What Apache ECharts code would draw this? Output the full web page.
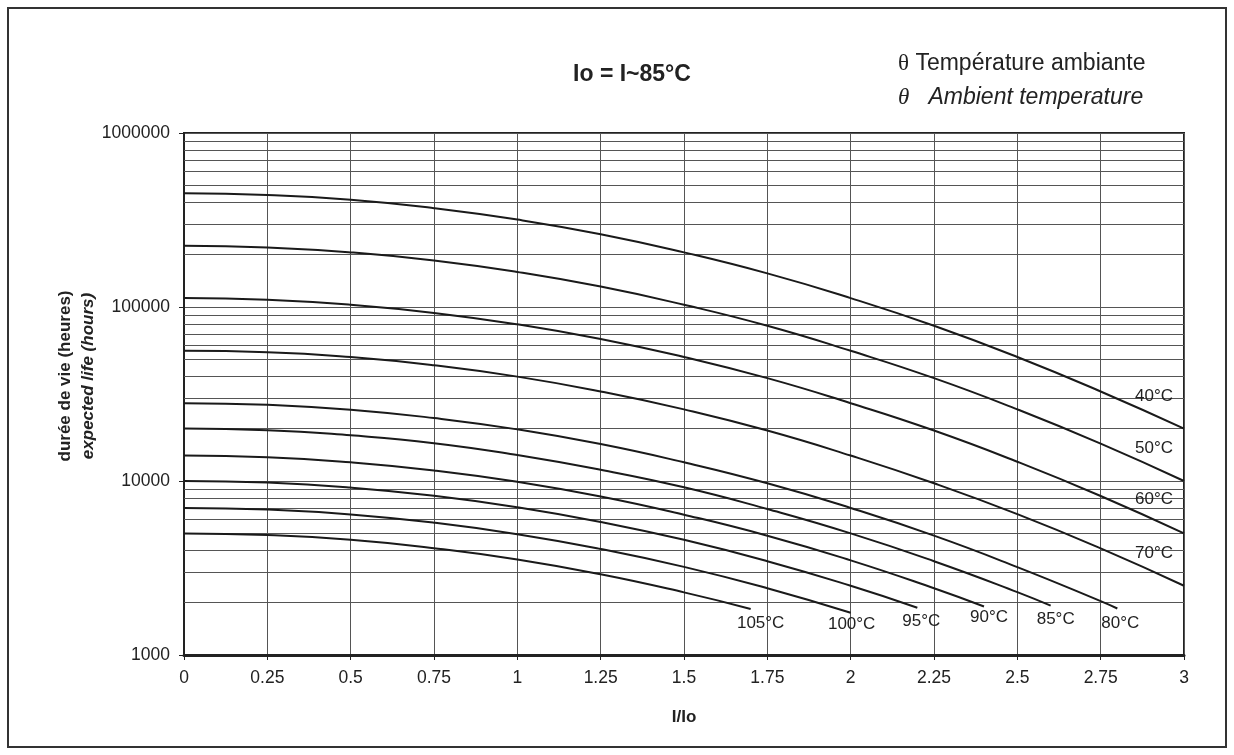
<!DOCTYPE html>
<html>
<head>
<meta charset="utf-8">
<script src="https://cdn.jsdelivr.net/npm/echarts@6/dist/echarts.min.js"></script>
<style>
  html, body { margin: 0; padding: 0; background: #ffffff; }
  #chart { width: 1234px; height: 755px; }
</style>
</head>
<body>
<div id="chart"></div>
<script>
// ---- data ----
const curveNames = ['40°C', '50°C', '60°C', '70°C', '80°C', '85°C', '90°C', '95°C', '100°C', '105°C'];

const x40 = [0, 0.25, 0.5, 0.75, 1, 1.25, 1.5, 1.75, 2, 2.25, 2.5, 2.75, 3];
const life40 = [450000, 440000, 413000, 370000, 318000, 262000, 206000, 156000, 112500, 78000, 51600, 32700, 20000];
const x50 = [0, 0.25, 0.5, 0.75, 1, 1.25, 1.5, 1.75, 2, 2.25, 2.5, 2.75, 3];
const life50 = [225000, 220000, 206000, 185000, 159000, 131000, 103000, 78000, 56000, 39000, 25800, 16400, 10000];
const x60 = [0, 0.25, 0.5, 0.75, 1, 1.25, 1.5, 1.75, 2, 2.25, 2.5, 2.75, 3];
const life60 = [112500, 110000, 103000, 92500, 79500, 65500, 51600, 39000, 28000, 19500, 12900, 8200, 5000];
const x70 = [0, 0.25, 0.5, 0.75, 1, 1.25, 1.5, 1.75, 2, 2.25, 2.5, 2.75, 3];
const life70 = [56000, 55000, 51600, 46300, 39800, 32700, 25800, 19500, 14000, 9700, 6450, 4100, 2500];
const x80 = [0, 0.25, 0.5, 0.75, 1, 1.25, 1.5, 1.75, 2, 2.25, 2.5, 2.75, 2.8];
const life80 = [28000, 27400, 25700, 23000, 19800, 16300, 12800, 9700, 7000, 4850, 3200, 2040, 1850];
const x85 = [0, 0.25, 0.5, 0.75, 1, 1.25, 1.5, 1.75, 2, 2.25, 2.5, 2.6];
const life85 = [20000, 19600, 18300, 16500, 14100, 11600, 9200, 6900, 5000, 3460, 2300, 1920];
const x90 = [0, 0.25, 0.5, 0.75, 1, 1.25, 1.5, 1.75, 2, 2.25, 2.4];
const life90 = [14000, 13700, 12800, 11500, 9900, 8150, 6400, 4850, 3500, 2420, 1900];
const x95 = [0, 0.25, 0.5, 0.75, 1, 1.25, 1.5, 1.75, 2, 2.2];
const life95 = [10000, 9790, 9170, 8230, 7070, 5820, 4590, 3460, 2500, 1870];
const x100 = [0, 0.25, 0.5, 0.75, 1, 1.25, 1.5, 1.75, 2];
const life100 = [7000, 6850, 6420, 5760, 4950, 4070, 3210, 2420, 1750];
const x105 = [0, 0.25, 0.5, 0.75, 1, 1.25, 1.5, 1.7];
const life105 = [5000, 4890, 4590, 4110, 3540, 2910, 2290, 1840];

// minor (2..9 x 10^n) horizontal grid levels of the log axis
const minorLevels = [2000, 3000, 4000, 5000, 6000, 7000, 8000, 9000,
  20000, 30000, 40000, 50000, 60000, 70000, 80000, 90000,
  200000, 300000, 400000, 500000, 600000, 700000, 800000, 900000];

const titleText = 'Io = I~85°C';
const yNameFr = 'durée de vie (heures)';
const yNameEn = 'expected life (hours)';
const xName = 'I/Io';

// ---- build ----
const xsList = [x40, x50, x60, x70, x80, x85, x90, x95, x100, x105];
const ysList = [life40, life50, life60, life70, life80, life85, life90, life95, life100, life105];
// label placement relative to each curve end (style only)
const labelOffsets = [[-30, -32], [-30, -33], [-30, -34], [-30, -32],
  [3, 15], [5, 14], [5, 11], [4, 14], [1, 12], [10, 14]];

const FONT = "'Liberation Sans', Arial, sans-serif";
const GRID_COLOR = '#555';

const series = curveNames.map((name, i) => {
  const xs = xsList[i], ys = ysList[i];
  const pts = xs.map((x, k) => [x, ys[k]]);
  const s = {
    name: name,
    type: 'line',
    data: pts,
    smooth: 0.5,
    showSymbol: false,
    symbol: 'none',
    lineStyle: { color: '#1a1a1a', width: 2 },
    z: 5,
    silent: true,
    markPoint: {
      symbol: 'circle',
      symbolSize: 1,
      silent: true,
      itemStyle: { color: 'rgba(0,0,0,0)' },
      label: {
        show: true,
        position: 'inside',
        offset: labelOffsets[i],
        formatter: name,
        color: '#222',
        fontFamily: FONT,
        fontSize: 17
      },
      data: [{ coord: pts[pts.length - 1] }]
    }
  };
  if (i === 0) {
    s.markLine = {
      silent: true,
      symbol: ['none', 'none'],
      label: { show: false },
      lineStyle: { color: GRID_COLOR, width: 1, type: 'solid' },
      z: 1,
      data: minorLevels.map(v => ({ yAxis: v }))
    };
  }
  return s;
});

const chart = echarts.init(document.getElementById('chart'), null, { renderer: 'canvas' });
chart.setOption({
  animation: false,
  backgroundColor: '#ffffff',
  grid: {
    left: 184, right: 50, top: 133, bottom: 100,
    show: true, borderColor: '#222', borderWidth: 2, containLabel: false
  },
  xAxis: {
    type: 'value',
    min: 0, max: 3, interval: 0.25,
    axisLine: { show: true, onZero: false, lineStyle: { color: '#222', width: 3 } },
    axisTick: { show: true, length: 5, lineStyle: { color: '#222' } },
    axisLabel: { color: '#222', fontFamily: FONT, fontSize: 17.5, margin: 14 },
    splitLine: { show: true, lineStyle: { color: GRID_COLOR, width: 1 } }
  },
  yAxis: {
    type: 'log',
    logBase: 10,
    min: 1000, max: 1000000,
    axisLine: { show: true, lineStyle: { color: '#222', width: 2 } },
    axisTick: { show: true, length: 5, lineStyle: { color: '#222' } },
    axisLabel: {
      color: '#222', fontFamily: FONT, fontSize: 17.5, margin: 14,
      formatter: v => String(Math.round(v))
    },
    splitLine: { show: true, lineStyle: { color: GRID_COLOR, width: 1 } }
  },
  graphic: [
    {
      type: 'rect', silent: true, z: 100,
      shape: { x: 8, y: 8, width: 1218, height: 739 },
      style: { fill: null, stroke: '#333', lineWidth: 2 }
    },
    {
      type: 'text', x: 632, y: 75, silent: true,
      style: { text: titleText, fill: '#222', font: "bold 23px 'Liberation Sans', Arial, sans-serif", align: 'center', verticalAlign: 'middle' }
    },
    {
      type: 'text', x: 898, y: 64, silent: true,
      style: {
        text: '{s|θ} Température ambiante',
        fill: '#222', fontFamily: FONT, fontSize: 23, align: 'left', verticalAlign: 'middle',
        rich: { s: { fontFamily: "'Liberation Serif', 'DejaVu Serif', serif", fontSize: 23, fill: '#222' } }
      }
    },
    {
      type: 'text', x: 898, y: 98, silent: true,
      style: {
        text: '{s|θ}   {i|Ambient temperature}',
        fill: '#222', fontFamily: FONT, fontSize: 23, align: 'left', verticalAlign: 'middle',
        rich: {
          s: { fontFamily: "'Liberation Serif', 'DejaVu Serif', serif", fontStyle: 'italic', fontSize: 23, fill: '#222' },
          i: { fontFamily: FONT, fontStyle: 'italic', fontSize: 23, fill: '#222' }
        }
      }
    },
    {
      type: 'text', x: 65, y: 376, rotation: Math.PI / 2, silent: true,
      style: { text: yNameFr, fill: '#222', font: "bold 17px 'Liberation Sans', Arial, sans-serif", align: 'center', verticalAlign: 'middle' }
    },
    {
      type: 'text', x: 88, y: 376, rotation: Math.PI / 2, silent: true,
      style: { text: yNameEn, fill: '#222', font: "italic bold 17px 'Liberation Sans', Arial, sans-serif", align: 'center', verticalAlign: 'middle' }
    },
    {
      type: 'text', x: 684, y: 717, silent: true,
      style: { text: xName, fill: '#222', font: "bold 17px 'Liberation Sans', Arial, sans-serif", align: 'center', verticalAlign: 'middle' }
    }
  ],
  series: series
});
</script>
</body>
</html>
